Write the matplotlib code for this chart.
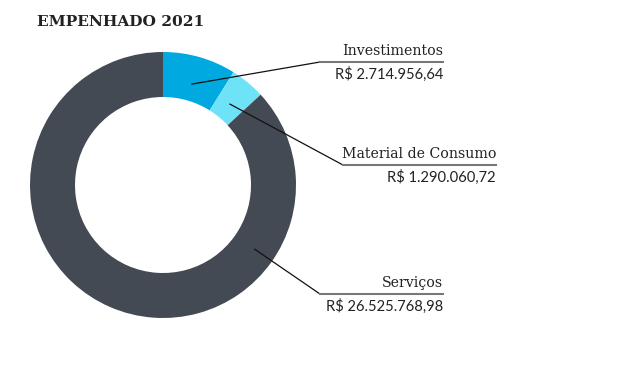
import numpy as np
import matplotlib.pyplot as plt

categorias = ["Investimentos", "Material de Consumo", "Serviços"]
valores = [2714956.64, 1290060.72, 26525768.98]
rotulos_valor = ["R$ 2.714.956,64", "R$ 1.290.060,72", "R$ 26.525.768,98"]
cores = ["#00a9df", "#6ee2f6", "#434a54"]

W, H = 640, 367
fig = plt.figure(figsize=(W / 100, H / 100), dpi=100)
ax = fig.add_axes([0, 0, 1, 1])

cx, cy = 163, H - 185
R, largura = 133, 45
ax.pie(valores, colors=cores, startangle=90, counterclock=False,
       center=(cx, cy), radius=R, wedgeprops=dict(width=largura, linewidth=0),
       frame=True)
ax.set_xlim(0, W)
ax.set_ylim(0, H)
ax.set_aspect("equal")
ax.axis("off")

fig.text(37 / W, 1 - 22 / H, "EMPENHADO 2021", family="DejaVu Serif",
         weight="bold", fontsize=11.1, va="center", ha="left", color="#222222")

# angulos das linhas de chamada (graus a partir do topo, sentido horario)
fracs = np.array(valores) / sum(valores)
acum = np.concatenate([[0], np.cumsum(fracs)]) * 360
ang_chamada = [(acum[0] + acum[1]) / 2, (acum[1] + acum[2]) / 2, 125]
r_chamada = [105, 105, 112]

# posicao dos rotulos: (x inicio linha, x fim / texto, y linha)
rot_x0 = [320, 343, 320]
rot_x1 = [443, 496, 443]
rot_y = [62, 165, 294]

for nome, val, a, r, x0, x1, y in zip(categorias, rotulos_valor, ang_chamada,
                                        r_chamada, rot_x0, rot_x1, rot_y):
    t = np.deg2rad(a)
    px = cx + r * np.sin(t)
    py = cy + r * np.cos(t)
    yy = H - y
    ax.plot([px, x0], [py, yy], color="#111111", lw=0.9)
    ax.plot([x0, x1], [yy, yy], color="#777777", lw=1.5)
    ax.text(x1, yy + 4, nome, family="DejaVu Serif", fontsize=10.2,
            ha="right", va="bottom", color="#222222")
    ax.text(x1, yy - 5, val, family="Lato", fontsize=10.6,
            ha="right", va="top", color="#222222")

fig.savefig("out.png", dpi=100, facecolor="white")
